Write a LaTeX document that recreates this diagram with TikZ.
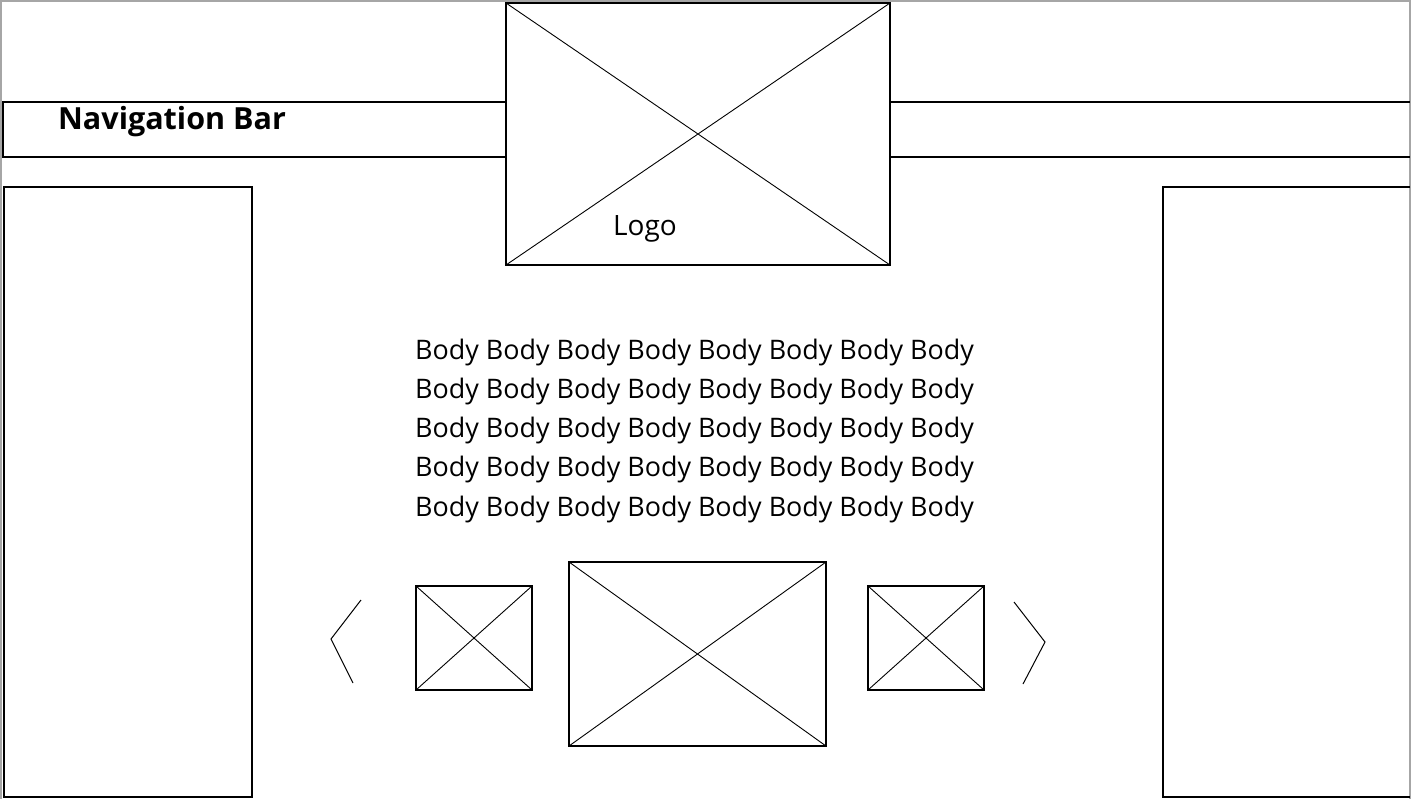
\documentclass[tikz,border=0pt]{standalone}
\usepackage{fontspec}
\setmainfont{Open Sans}
\usepackage{tikz}

\tikzset{
  imgbox/.style={draw, line width=1.4pt, inner sep=0pt, outer sep=0pt,
    path picture={\draw[line width=0.9pt]
      (path picture bounding box.north west) -- (path picture bounding box.south east)
      (path picture bounding box.south west) -- (path picture bounding box.north east);}},
  panel/.style={draw, line width=1.4pt},
  navline/.style={line width=1.8pt},
  bodytext/.style={inner sep=0pt, anchor=base west, font=\fontsize{26.9}{30}\selectfont}
}

\begin{document}
\begin{tikzpicture}[x=1pt, y=-1pt]
				\useasboundingbox (0,0) rectangle (1412,798);
				% Page frame
				\draw[gray!70, line width=1.5pt] (1,1) rectangle (1410,802);
				
				% Logo and navigation bar
				\node[imgbox, minimum width=384pt, minimum height=262pt] (logo) at (698,134) {};
				\node[inner sep=0pt, anchor=base west, font=\fontsize{28}{32}\selectfont] (logotext) at (613,235) {Logo};
				\draw[navline] (logo.west |- 0,102) -- (3,102) -- (3,157) -- (logo.west |- 0,157);
				\draw[navline] (logo.east |- 0,102) -- (1410,102);
				\draw[navline] (logo.east |- 0,157) -- (1410,157);
				\node[inner sep=0pt, anchor=base west, font=\bfseries\fontsize{30.5}{34}\selectfont] (navtext) at (58,129) {Navigation Bar};
				
				% Side panels
				\draw[panel] (4,187) rectangle (252,797);
				\draw[panel] (1410,187) -- (1163,187) -- (1163,797) -- (1410,797);
				
				% Body text
				\foreach \i in {0,...,4}
					\node[bodytext] (body\i) at (415,359+39.25*\i) {Body Body Body Body Body Body Body Body};
				
				% Image carousel
				\node[imgbox, minimum width=116pt, minimum height=104pt] (imgleft) at (474,638) {};
				\node[imgbox, minimum width=257pt, minimum height=184pt] (imgmain) at (697.5,654) {};
				\node[imgbox, minimum width=116pt, minimum height=104pt] (imgright) at (926,638) {};
				\coordinate (prevtop) at (361,600);
				\coordinate (prevtip) at (331,639);
				\coordinate (prevbot) at (353,683);
				\coordinate (nexttop) at (1014,602);
				\coordinate (nexttip) at (1045,642);
				\coordinate (nextbot) at (1023,684);
				\draw[line width=1pt] (prevtop) -- (prevtip) -- (prevbot);
				\draw[line width=1pt] (nexttop) -- (nexttip) -- (nextbot);
\end{tikzpicture}
\end{document}
